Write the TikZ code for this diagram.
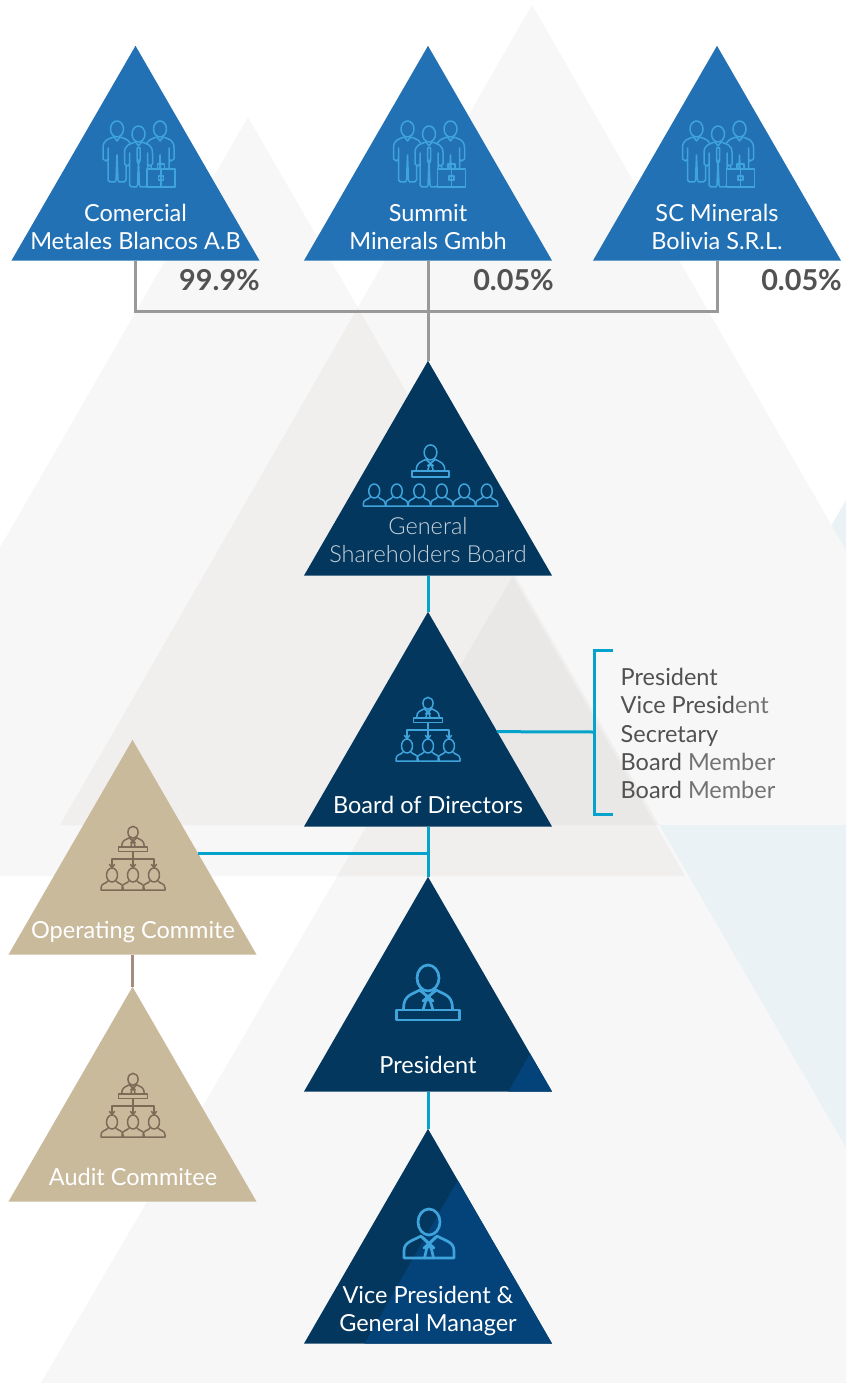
\documentclass[tikz,border=0pt]{standalone}
\usepackage{fontspec}
\setmainfont{Lato}
\newfontfamily\latolight{Lato Light}
\usetikzlibrary{shapes.geometric,calc}
\definecolor{skyblue}{HTML}{2271B5}
\definecolor{navy}{HTML}{03375E}
\definecolor{navylit}{HTML}{03437A}
\definecolor{sand}{HTML}{CABA9C}
\definecolor{sanddark}{HTML}{7D6B58}
\definecolor{stem}{HTML}{A58D7E}
\definecolor{iconblue}{HTML}{3FA3DC}
\definecolor{teal}{HTML}{05A3CB}
\definecolor{paleblue}{HTML}{EAF2F6}
\definecolor{bgone}{HTML}{F7F7F7}
\definecolor{bgtwo}{HTML}{F0EFEE}
\definecolor{bgthree}{HTML}{E9E8E6}
\tikzset{
  tri/.style={regular polygon,regular polygon sides=3,minimum size=286.4pt,inner sep=0pt,outer sep=0pt,draw=none},
  skytri/.style={tri,fill=skyblue},
  navytri/.style={tri,fill=navy},
  sandtri/.style={tri,fill=sand},
  lbl/.style={text=white,font=\fontsize{23.5}{28}\selectfont,align=center,anchor=south,inner sep=0pt},
  pct/.style={text=black!68,font=\fontsize{28.8}{30}\selectfont\bfseries,anchor=base east,inner sep=0pt},
  greyline/.style={draw=black!40,line width=3pt},
  tealline/.style={draw=teal,line width=3pt},
  iconline/.style={draw=iconblue,line width=1.5pt,line join=round,line cap=round},
  sandicon/.style={iconline/.append style={draw=sanddark}},
  bigicon/.style={iconline/.append style={line width=2.7pt}},
  pics/speaker/.style={code={
    \draw[iconline] (0,-32) ellipse (11 and 13);
    \draw[iconline] (-24.5,-1) .. controls (-24.5,-14) and (-18,-15) .. (-8,-20) -- (0,-13) -- (8,-20) .. controls (18,-15) and (24.5,-14) .. (24.5,-1);
    \draw[iconline] (-5,0) -- (-2,-10) -- (2,-10) -- (5,0) (-7,-19) -- (5,-9) (7,-19) -- (-5,-9);
    \draw[iconline] (-31.5,0) rectangle (31.5,10);
  }},
  pics/suited/.style={code={
    \draw[iconline] (0,-36) ellipse (11 and 13);
    \draw[iconline] (-25,0) -- (-25,-7) .. controls (-25,-16) and (-17,-17) .. (-8,-22) -- (0,-14) -- (8,-22) .. controls (17,-17) and (25,-16) .. (25,-7) -- (25,0) -- cycle;
    \draw[iconline] (-4.5,0) -- (-2,-11) -- (2,-11) -- (4.5,0) (-7,-21) -- (5,-10) (7,-21) -- (-5,-10);
  }},
  pics/bust/.style={code={
    \draw[iconline] (0,-15) ellipse (5.5 and 7);
    \draw[iconline] (-4,-9) .. controls (-6,-6) and (-11,-7) .. (-11,-2) -- (-11,0) -- (11,0) -- (11,-2) .. controls (11,-7) and (6,-6) .. (4,-9);
  }},
  pics/orgicon/.style={code={
    \pic[scale=.46] at (0,0) {speaker};
    \draw[iconline] (0,4.6) -- (0,20) (-21,20) -- (-21,12) -| (21,20);
    \foreach \ax in {-21,0,21}{
      \draw[iconline] (\ax-2.5,17.5) -- (\ax,20.5) -- (\ax+2.5,17.5);
      \pic at (\ax,43) {bust};
    }
  }},
  pics/figure/.style={code={
    \draw[iconline,fill=skyblue] (0,-53) ellipse (6.5 and 8);
    \draw[iconline,fill=skyblue] (-3,-45) .. controls (-9,-43) and (-14,-42) .. (-14,-34) -- (-14,-23) -- (-11,-21) -- (-9,-23) -- (-9,-34) -- (-9,-2) -- (-7,0) -- (-2,0) -- (-1,-2) -- (0,-27) -- (1,-2) -- (2,0) -- (7,0) -- (9,-2) -- (9,-34) -- (9,-23) -- (11,-21) -- (14,-23) -- (14,-34) .. controls (14,-42) and (9,-43) .. (3,-45) -- (0,-41) -- cycle;
  }},
  pics/crew/.style={code={
    \pic at (-21.5,-5) {figure};
    \pic at (21.5,-5) {figure};
    \pic at (0,0) {figure};
    \draw[iconline] (-1.5,-39) -- (1.5,-39) -- (1.5,-26) -- (0,-23) -- (-1.5,-26) -- cycle;
    \draw[iconline,fill=skyblue] (8.5,-18) rectangle (36.5,0);
    \draw[iconline] (19,-18) -- (19,-23) -- (26,-23) -- (26,-18) (22.5,-18) -- (22.5,0) (20,-11) rectangle (25,-7);
  }},
}
\begin{document}
\begin{tikzpicture}[x=1pt,y=-1pt]
  \useasboundingbox (0,0) rectangle (846,1383);

  % backdrop
  \fill[white] (0,0) rectangle (846,1383);
  \begin{scope}
    \clip (0,0) rectangle (846,1383);
    \fill[paleblue] (846,500) -- (342,1383) -- (1350,1383) -- cycle;
    \fill[bgone] (532,5) -- (60,825) -- (1004,825) -- cycle;
    \fill[bgone] (248,117) -- (-189,876) -- (685,876) -- cycle;
    \fill[bgone] (514,574) -- (41,1383) -- (982,1383) -- cycle;
    \begin{scope}
      \clip (514,574) -- (41,1383) -- (982,1383) -- cycle;
      \fill[bgtwo] (248,117) -- (-189,876) -- (685,876) -- cycle;
      \fill[bgtwo] (532,5) -- (60,825) -- (1004,825) -- cycle;
    \end{scope}
    \begin{scope}
      \clip (532,5) -- (60,825) -- (1004,825) -- cycle;
      \fill[bgtwo] (248,117) -- (-189,876) -- (685,876) -- cycle;
      \clip (248,117) -- (-189,876) -- (685,876) -- cycle;
      \fill[bgthree] (514,574) -- (41,1383) -- (982,1383) -- cycle;
    \end{scope}
  \end{scope}

  % owners
  \node[skytri] (metales) at (135.5,189) {};
  \node[skytri] (summit) at (428,189) {};
  \node[skytri] (scmin) at (717,189) {};

  % boards
  \node[navytri] (general) at (428,504) {};
  \node[navytri] (board) at (428,755) {};
  \node[navytri] (president) at (428,1020) {};
  \node[navytri] (vicepres) at (428,1272) {};
  \node[sandtri] (operating) at (132.5,883) {};
  \node[sandtri] (audit) at (132.5,1130) {};

  \begin{scope}
    \clip (846,500) -- (342,1383) -- (1350,1383) -- cycle;
    \fill[navylit] (president.corner 1) -- (president.corner 2) -- (president.corner 3) -- cycle;
    \fill[navylit] (vicepres.corner 1) -- (vicepres.corner 2) -- (vicepres.corner 3) -- cycle;
  \end{scope}

  % connectors
  \coordinate (ownerbus) at (428,311);
  \draw[greyline] (metales.side 2) |- (ownerbus);
  \draw[greyline] (scmin.side 2) |- (ownerbus);
  \draw[greyline] (summit.side 2) -- (general.corner 1);
  \draw[tealline] (general.side 2) -- (board.corner 1);
  \draw[tealline] (board.side 2) -- (president.corner 1);
  \draw[tealline] (president.side 2) -- (vicepres.corner 1);
  \coordinate (boardout) at ($(board.corner 1)!0.558!(board.corner 3)$);
  \coordinate (rostermid) at (594,732);
  \coordinate (rostertop) at (613,650);
  \coordinate (rosterbot) at (613,814);
  \draw[tealline] (boardout) -- (rostermid);
  \draw[tealline] (rostertop) -| (rostermid) |- (rosterbot);
  \coordinate (opout) at ($(operating.corner 1)!0.528!(operating.corner 3)$);
  \draw[tealline] (opout) -- (opout -| board.side 2);
  \draw[draw=stem,line width=3pt] (operating.side 2) -- (audit.corner 1);

  % icons
  \pic at ($(metales.center)+(3,-2)$) {crew};
  \pic at ($(summit.center)+(1,-2)$) {crew};
  \pic at ($(scmin.center)+(1,-2)$) {crew};
  \pic[scale=.58] at ($(general.center)+(2.5,-33)$) {speaker};
  \foreach \bx in {-56.25,-33.75,-11.25,11.25,33.75,56.25}
    \pic at ($(general.center)+(2.5+\bx,2)$) {bust};
  \pic at ($(board.center)+(0,-37)$) {orgicon};
  \pic[sandicon] at ($(operating.center)+(0.5,-36)$) {orgicon};
  \pic[sandicon] at ($(audit.center)+(0.5,-36)$) {orgicon};
  \pic[bigicon] at ($(president.center)+(0,-10)$) {speaker};
  \pic[bigicon] at ($(vicepres.center)+(1,-14)$) {suited};

  % labels
  \node[lbl] (metaleslbl) at (135.5,249.5) {Comercial\\Metales Blancos A.B};
  \node[lbl] (summitlbl) at (428,249.5) {Summit\\Minerals Gmbh};
  \node[lbl] (scminlbl) at (717,249.5) {SC Minerals\\Bolivia S.R.L.};
  \node[pct] (metalespct) at (260,290) {99.9\%};
  \node[pct] (summitpct) at (554,290) {0.05\%};
  \node[pct] (scminpct) at (842,290) {0.05\%};
  \node[lbl,text=white!78!navy,font=\fontsize{23.5}{28}\latolight] (generallbl) at (428,563) {General\\Shareholders Board};
  \node[lbl] (boardlbl) at (428,814) {Board of Directors};
  \node[lbl] (oplbl) at (133,943) {Operating Commite};
  \node[lbl] (auditlbl) at (133,1186) {Audit Commitee};
  \node[lbl] (preslbl) at (428,1074) {President};
  \node[lbl] (vplbl) at (428,1336) {Vice President \&\\General Manager};
  \node[lbl,font=\fontsize{23.5}{28.25}\selectfont,anchor=north west,align=left,text=black!68] (roster) at (620.5,668) {President\\Vice Presid{\color{black!55}ent}\\Secretary\\Board {\color{black!55}Member}\\Board {\color{black!55}Member}};
\end{tikzpicture}
\end{document}
